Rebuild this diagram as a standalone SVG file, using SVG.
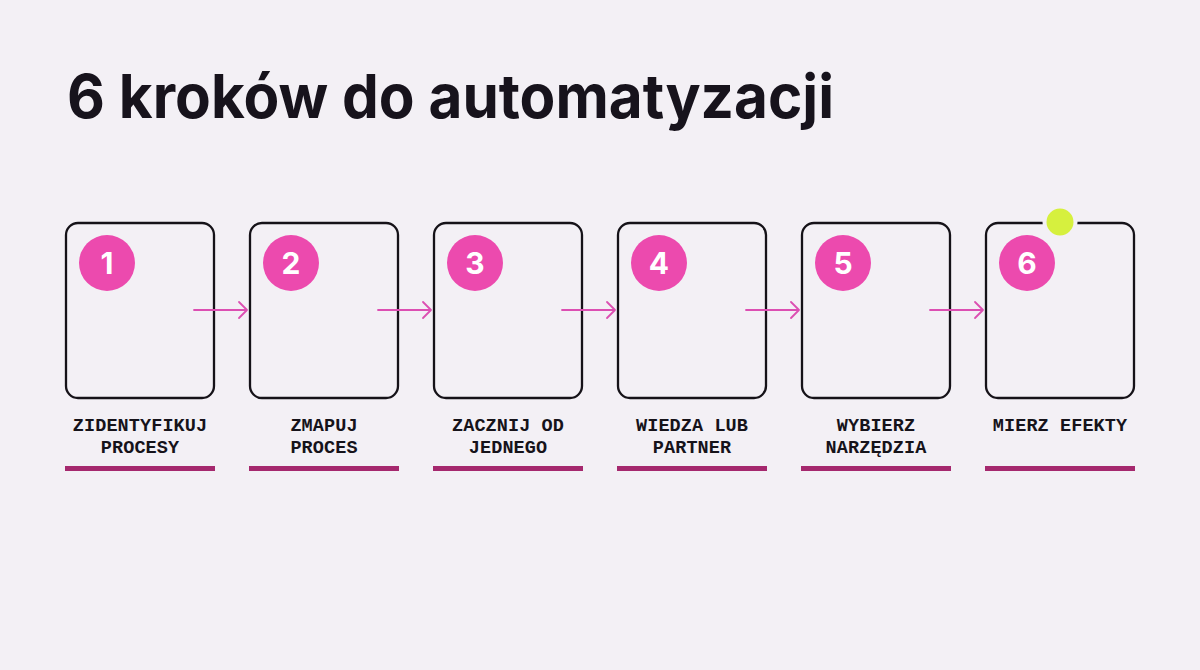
<svg xmlns="http://www.w3.org/2000/svg" width="1200" height="670" viewBox="0 0 1200 670">
<defs>
<style>
.box{fill:none;stroke:#151218;stroke-width:2.3}
.num{fill:#ec4aae}
.numt{fill:#ffffff;font-family:Inter,"Liberation Sans",sans-serif;font-weight:700;font-size:30px;text-anchor:middle}
.lbl{fill:#16131a;font-family:"Liberation Mono","DejaVu Sans Mono",monospace;font-weight:700;font-size:18.5px;letter-spacing:0.1px;text-anchor:middle}
.bar{fill:#a5286e}
.arr{fill:none;stroke:#dc4fb2;stroke-width:1.8;stroke-linecap:round;stroke-linejoin:round}
</style>
</defs>
<rect width="1200" height="670" fill="#f3f0f5"/>
<text x="67" y="118" font-family="Inter,'Liberation Sans',sans-serif" font-weight="700" font-size="61" fill="#17131c" textLength="767" lengthAdjust="spacingAndGlyphs">6 kroków do automatyzacji</text>

<g id="node1">
<rect class="box" x="66" y="223" width="148" height="175" rx="12"/>
<circle class="num" cx="107" cy="263" r="28"/>
<text class="numt" x="107" y="274">1</text>
<text class="lbl" x="140" y="431">ZIDENTYFIKUJ</text>
<text class="lbl" x="140" y="453">PROCESY</text>
<rect class="bar" x="65" y="466" width="150" height="5"/>
</g>
<g id="node2">
<rect class="box" x="250" y="223" width="148" height="175" rx="12"/>
<circle class="num" cx="291" cy="263" r="28"/>
<text class="numt" x="291" y="274">2</text>
<text class="lbl" x="324" y="431">ZMAPUJ</text>
<text class="lbl" x="324" y="453">PROCES</text>
<rect class="bar" x="249" y="466" width="150" height="5"/>
</g>
<g id="node3">
<rect class="box" x="434" y="223" width="148" height="175" rx="12"/>
<circle class="num" cx="475" cy="263" r="28"/>
<text class="numt" x="475" y="274">3</text>
<text class="lbl" x="508" y="431">ZACZNIJ OD</text>
<text class="lbl" x="508" y="453">JEDNEGO</text>
<rect class="bar" x="433" y="466" width="150" height="5"/>
</g>
<g id="node4">
<rect class="box" x="618" y="223" width="148" height="175" rx="12"/>
<circle class="num" cx="659" cy="263" r="28"/>
<text class="numt" x="659" y="274">4</text>
<text class="lbl" x="692" y="431">WIEDZA LUB</text>
<text class="lbl" x="692" y="453">PARTNER</text>
<rect class="bar" x="617" y="466" width="150" height="5"/>
</g>
<g id="node5">
<rect class="box" x="802" y="223" width="148" height="175" rx="12"/>
<circle class="num" cx="843" cy="263" r="28"/>
<text class="numt" x="843" y="274">5</text>
<text class="lbl" x="876" y="431">WYBIERZ</text>
<text class="lbl" x="876" y="453">NARZĘDZIA</text>
<rect class="bar" x="801" y="466" width="150" height="5"/>
</g>
<g id="node6">
<rect class="box" x="986" y="223" width="148" height="175" rx="12"/>
<circle class="num" cx="1027" cy="263" r="28"/>
<text class="numt" x="1027" y="274">6</text>
<circle cx="1060" cy="222" r="15.5" fill="#d6f03e" stroke="#f3f0f5" stroke-width="4"/>
<text class="lbl" x="1060" y="431">MIERZ EFEKTY</text>
<rect class="bar" x="985" y="466" width="150" height="5"/>
</g>

<g id="connectors">
<path class="arr" d="M194 310H247M239 302L247 310L239 318"/>
<path class="arr" d="M378 310H431M423 302L431 310L423 318"/>
<path class="arr" d="M562 310H615M607 302L615 310L607 318"/>
<path class="arr" d="M746 310H799M791 302L799 310L791 318"/>
<path class="arr" d="M930 310H983M975 302L983 310L975 318"/>
</g>
</svg>
